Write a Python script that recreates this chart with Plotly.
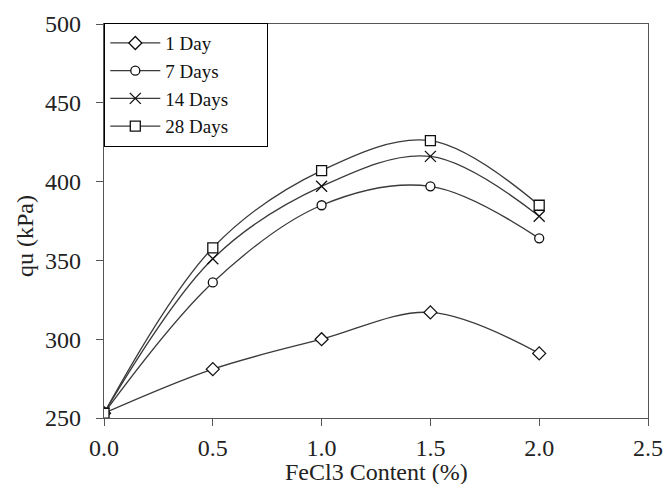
import plotly.graph_objects as go

fecl3 = [0.0, 0.5, 1.0, 1.5, 2.0]
day1 = [253, 281, 300, 317, 291]
day7 = [253, 336, 385, 397, 364]
day14 = [253, 351, 397, 416, 378]
day28 = [253, 358, 407, 426, 385]

series_names = ["1 Day", "7 Days", "14 Days", "28 Days"]
series_vals = [day1, day7, day14, day28]
symbols = ["diamond", "circle", "x-thin", "square"]
sizes = [10, 9, 11, 10]

FONT = "Liberation Serif, Times New Roman, serif"
PAD = "\u00a0" * 7

fig = go.Figure()
for name, vals, sym, sz in zip(series_names, series_vals, symbols, sizes):
    fig.add_trace(go.Scatter(
        x=fecl3, y=vals, name=name + PAD, mode="lines+markers",
        line=dict(color="#3a3a3a", width=1.3, shape="spline", smoothing=1.0),
        marker=dict(symbol=sym, size=sz, color="#ffffff",
                    line=dict(color="#111111", width=1.3)),
    ))

fig.update_layout(
    width=668, height=484,
    margin=dict(l=104, r=20, t=24, b=66),
    paper_bgcolor="white", plot_bgcolor="white",
    font=dict(family=FONT, size=24, color="#222222"),
    showlegend=True,
    legend=dict(
        x=0, y=1.003, xanchor="left", yanchor="top",
        bgcolor="white", bordercolor="#000000", borderwidth=1.3,
        font=dict(family=FONT, size=19, color="#111111"),
        itemwidth=50, tracegroupgap=0,
    ),
    xaxis=dict(
        range=[0, 2.5], tickvals=[0, 0.5, 1.0, 1.5, 2.0, 2.5],
        ticktext=["0.0", "0.5", "1.0", "1.5", "2.0", "2.5"],
        showgrid=False, zeroline=False, automargin=False,
        showline=True, linecolor="#555555", linewidth=1.3, mirror=True,
        ticks="outside", ticklen=7, tickcolor="#555555", tickwidth=1.3,
        ticklabelstandoff=1,
        tickfont=dict(family=FONT, size=24, color="#222222"),
    ),
    yaxis=dict(
        range=[250, 500], tickvals=[250, 300, 350, 400, 450, 500],
        showgrid=False, zeroline=False, automargin=False,
        showline=True, linecolor="#555555", linewidth=1.3, mirror=True,
        ticks="outside", ticklen=7, tickcolor="#555555", tickwidth=1.3,
        ticklabelstandoff=10,
        tickfont=dict(family=FONT, size=24, color="#222222"),
    ),
)

fig.add_annotation(
    text="FeCl3 Content (%)", showarrow=False,
    xref="paper", yref="paper", x=0.5, y=-0.136,
    xanchor="center", yanchor="middle",
    font=dict(family=FONT, size=24, color="#222222"),
)
fig.add_annotation(
    text="qu (kPa)", textangle=-90, showarrow=False,
    xref="paper", yref="paper", x=-0.145, y=0.462,
    xanchor="center", yanchor="middle",
    font=dict(family=FONT, size=24, color="#222222"),
)

fig.write_html("out.html", config={"displayModeBar": False},
               post_script="document.body.style.margin='0';")
